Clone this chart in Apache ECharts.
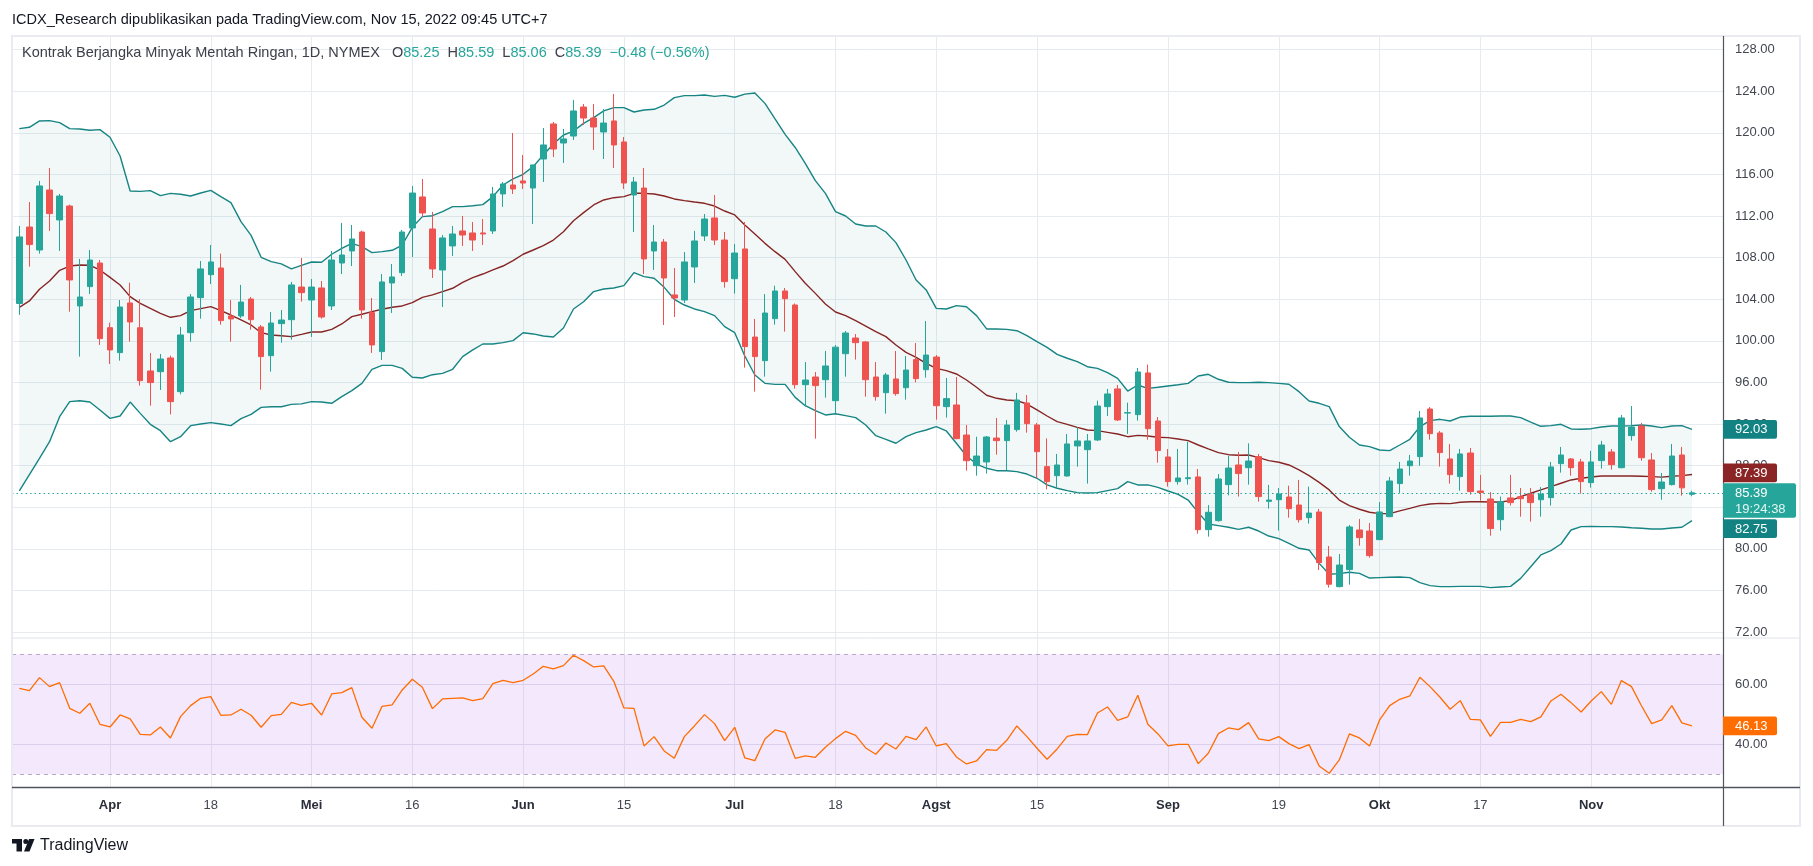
<!DOCTYPE html>
<html>
<head>
<meta charset="utf-8">
<title>Kontrak Berjangka Minyak Mentah Ringan, 1D, NYMEX</title>
<script src="https://cdn.jsdelivr.net/npm/echarts@6/dist/echarts.min.js"></script>
<style>
  html, body { margin: 0; height: 100%; background: #fff; }
  #chart { width: 1813px; height: 866px; }
</style>
</head>
<body>
<div id="chart"></div>
<script>
// daily bars 2022
var dates = [
  '03-21','03-22','03-23','03-24','03-25','03-28','03-29','03-30','03-31',
  '04-01','04-04','04-05','04-06','04-07','04-08','04-11','04-12','04-13','04-14','04-18','04-19','04-20','04-21','04-22','04-25','04-26','04-27','04-28','04-29',
  '05-02','05-03','05-04','05-05','05-06','05-09','05-10','05-11','05-12','05-13','05-16','05-17','05-18','05-19','05-20','05-23','05-24','05-25','05-26','05-27','05-31',
  '06-01','06-02','06-03','06-06','06-07','06-08','06-09','06-10','06-13','06-14','06-15','06-16','06-17','06-21','06-22','06-23','06-24','06-27','06-28','06-29','06-30',
  '07-01','07-05','07-06','07-07','07-08','07-11','07-12','07-13','07-14','07-15','07-18','07-19','07-20','07-21','07-22','07-25','07-26','07-27','07-28','07-29',
  '08-01','08-02','08-03','08-04','08-05','08-08','08-09','08-10','08-11','08-12','08-15','08-16','08-17','08-18','08-19','08-22','08-23','08-24','08-25','08-26','08-29','08-30','08-31',
  '09-01','09-02','09-06','09-07','09-08','09-09','09-12','09-13','09-14','09-15','09-16','09-19','09-20','09-21','09-22','09-23','09-26','09-27','09-28','09-29','09-30',
  '10-03','10-04','10-05','10-06','10-07','10-10','10-11','10-12','10-13','10-14','10-17','10-18','10-19','10-20','10-21','10-24','10-25','10-26','10-27','10-28','10-31',
  '11-01','11-02','11-03','11-04','11-07','11-08','11-09','11-10','11-11','11-14','11-15'
];

var opens = [
  103.60,110.95,108.74,114.51,111.63,112.97,103.36,105.22,107.49,101.27,
  98.87,103.65,101.27,97.11,97.04,98.36,95.12,100.79,104.16,106.37,
  107.01,102.40,102.40,104.03,101.34,98.58,101.66,102.04,105.18,103.93,
  105.09,103.36,107.49,108.65,110.47,102.72,98.97,105.57,106.56,110.86,
  113.84,110.76,106.82,109.13,110.57,110.38,110.38,110.57,114.13,114.99,
  115.38,114.70,117.49,120.86,119.03,119.70,122.49,121.43,120.09,121.15,
  119.13,114.03,114.70,108.65,109.51,104.42,103.93,107.11,110.09,111.82,
  109.70,105.98,108.84,100.37,98.10,102.14,104.80,103.45,95.79,96.53,
  96.27,94.25,98.77,100.28,99.90,96.53,95.02,96.34,95.50,98.20,
  97.23,98.45,93.68,93.84,90.95,88.00,88.36,90.66,90.41,91.47,
  94.03,91.92,87.91,87.04,87.01,89.90,89.54,90.47,93.68,95.38,
  93.06,92.91,96.92,92.30,88.84,86.47,86.75,86.92,81.85,82.72,
  86.18,88.07,87.81,88.87,84.57,84.73,84.99,84.22,83.00,83.55,
  79.22,76.37,78.01,81.82,81.72,80.89,83.10,86.28,88.00,88.87,
  93.45,91.15,88.65,86.95,89.22,85.57,84.80,82.81,84.90,85.02,
  85.22,84.73,84.93,88.20,88.65,88.36,86.37,88.49,89.32,87.81,
  90.89,91.82,88.55,85.79,86.18,89.03,85.25
];
var highs = [
  111.05,113.36,115.38,116.63,114.13,113.10,107.88,108.74,107.78,101.75,
  103.93,105.60,104.00,98.84,98.74,98.58,101.34,104.51,107.68,109.22,
  108.39,103.93,105.38,104.22,101.53,102.78,102.97,105.67,107.97,105.95,
  105.76,108.65,111.34,111.15,110.60,104.13,106.43,107.40,110.67,114.90,
  115.57,112.40,110.18,111.05,112.01,111.43,111.72,114.80,115.28,119.99,
  117.88,116.95,120.47,121.05,120.38,123.17,122.78,122.78,122.30,123.74,
  119.61,115.76,116.63,111.15,109.80,107.01,108.55,110.57,112.20,114.03,
  110.47,109.32,111.43,102.11,104.50,105.31,105.09,103.60,97.97,97.01,
  99.03,99.60,100.95,100.66,99.99,97.97,96.92,99.03,98.55,99.80,
  101.91,98.64,96.43,96.53,91.91,90.79,90.86,92.59,92.39,95.00,
  94.80,92.11,90.63,89.13,91.05,91.69,91.05,94.26,95.38,95.76,
  94.06,97.40,97.72,92.68,89.61,89.61,90.31,87.68,84.22,87.20,
  88.93,89.32,90.15,89.13,86.15,85.86,86.08,86.63,85.99,83.84,
  80.28,79.51,82.30,82.88,82.49,84.51,86.92,88.36,89.03,93.26,
  93.64,91.34,90.09,89.61,89.70,87.11,85.47,85.03,87.11,85.86,
  85.86,85.95,88.36,89.80,88.74,88.65,89.42,90.38,89.61,92.88,
  93.74,92.11,89.22,87.30,90.09,89.80,85.59
];
var lows = [
  102.50,107.14,108.39,110.57,108.65,102.81,98.49,104.51,99.61,97.78,
  98.10,99.93,95.70,93.77,95.28,92.94,94.86,99.93,102.14,105.47,
  101.56,99.93,102.20,101.08,95.31,97.04,99.83,100.12,103.78,100.38,
  102.14,102.97,106.43,107.20,102.14,98.84,98.17,102.69,106.24,108.07,
  111.92,106.05,103.26,108.17,109.13,108.65,109.22,110.28,112.88,114.13,
  114.61,111.24,115.28,117.68,117.11,119.32,120.76,118.36,117.49,116.63,
  114.61,110.47,106.43,106.82,101.53,102.30,103.64,105.57,109.61,109.22,
  105.12,104.54,97.43,95.12,96.56,101.56,100.89,95.41,93.67,90.60,
  94.54,93.03,96.56,98.20,94.64,94.25,93.00,94.73,94.35,96.02,
  96.47,92.43,92.62,90.55,87.52,87.04,87.24,89.06,87.59,91.27,
  91.18,86.79,85.73,85.86,86.95,87.91,86.28,90.38,92.78,92.30,
  91.05,92.33,90.50,88.29,85.99,86.18,86.18,81.47,81.18,82.62,
  85.15,85.03,86.18,84.54,83.87,81.76,83.00,82.53,82.43,77.97,
  76.28,76.30,76.56,80.31,79.16,80.85,83.05,85.38,87.04,88.00,
  90.50,87.91,86.28,85.60,85.22,84.64,81.27,81.76,84.16,83.10,
  82.62,83.10,84.16,87.33,87.04,85.31,85.89,87.72,87.62,87.75,
  90.41,88.48,85.50,84.73,86.10,85.12,85.06
];
var closes = [
  110.00,109.26,114.90,112.24,113.93,105.86,104.22,107.78,100.22,99.13,
  103.26,101.82,96.18,95.99,98.26,94.16,100.57,104.22,106.92,107.59,
  101.95,102.11,103.74,102.04,98.49,101.72,102.01,105.38,104.64,105.18,
  102.30,107.78,108.26,109.80,102.97,99.61,105.67,106.15,110.47,114.22,
  112.30,106.92,109.90,110.28,110.18,109.70,110.28,114.13,115.09,114.61,
  115.18,116.92,118.84,118.45,119.42,122.11,121.43,120.57,120.95,118.84,
  115.18,115.28,107.88,109.51,106.05,104.13,107.59,109.61,111.72,109.70,
  105.70,108.45,99.45,98.49,102.68,104.80,104.06,95.79,96.24,95.70,
  97.59,99.40,100.76,99.83,96.27,94.64,96.72,94.93,97.20,96.37,
  98.64,93.77,94.45,90.60,88.48,88.93,90.76,90.41,91.91,94.32,
  92.04,89.35,86.47,88.07,90.09,90.38,90.38,93.74,94.90,92.40,
  93.10,97.01,91.56,89.45,86.47,86.82,86.85,81.85,83.52,86.72,
  87.78,87.24,88.45,85.03,84.70,85.28,83.87,82.81,83.45,78.68,
  76.60,78.45,82.11,81.08,79.35,83.55,86.53,87.68,88.45,92.59,
  91.08,89.26,87.14,89.13,85.51,85.41,81.95,84.54,84.45,84.83,
  84.45,85.28,87.88,89.03,87.81,86.47,88.36,89.99,88.10,92.59,
  91.72,88.77,85.70,86.43,88.93,85.87,85.39
];

// Bollinger Bands (20, 2) as drawn
var bbUpper = [
  120.41,120.54,121.15,121.18,120.99,120.41,120.38,120.25,120.31,119.58,
  117.78,114.42,114.38,114.45,113.97,114.19,114.10,113.93,114.22,114.48,
  113.87,113.29,111.47,110.15,108.04,107.62,107.40,106.92,107.27,107.59,
  107.56,108.33,108.90,109.38,109.06,108.49,108.58,108.71,109.22,110.92,
  111.95,112.04,112.43,112.91,112.91,113.00,113.10,113.87,114.99,115.57,
  116.02,116.76,117.88,118.93,119.80,120.18,120.92,121.47,122.11,122.43,
  122.43,122.01,122.20,122.27,122.68,123.39,123.58,123.58,123.65,123.51,
  123.61,123.43,123.73,123.84,122.84,121.34,119.86,118.60,117.07,115.41,
  114.19,112.43,112.01,111.24,111.05,111.05,110.47,109.45,107.78,105.86,
  104.90,103.13,103.07,103.39,103.29,102.43,101.15,101.15,101.11,100.98,
  100.50,99.93,99.38,98.71,98.33,98.00,97.52,97.36,96.95,96.40,
  95.18,95.76,95.44,95.54,95.67,95.79,95.92,96.63,96.79,96.31,
  96.02,95.99,95.99,96.02,95.99,95.92,95.83,95.12,94.22,94.00,
  93.68,91.76,90.73,89.99,89.83,89.51,89.45,89.99,90.54,91.76,
  92.33,92.46,92.30,92.68,92.75,92.75,92.75,92.78,92.78,92.62,
  92.20,91.79,91.85,91.98,91.53,91.50,91.56,91.72,91.82,91.82,
  91.85,91.92,91.82,91.66,91.82,91.85,91.50
];
var bbBasis = [
  103.23,103.84,104.96,105.76,106.79,107.20,107.30,107.27,106.82,106.11,
  105.38,104.26,103.61,103.13,102.65,102.27,102.43,102.91,103.10,103.29,
  102.91,102.49,102.01,101.53,100.79,100.57,100.50,100.41,100.63,100.86,
  100.86,101.11,101.63,102.33,102.56,102.81,103.04,103.23,103.36,103.68,
  104.19,104.42,104.74,105.06,105.63,106.08,106.43,106.82,107.20,107.72,
  108.33,108.74,109.16,109.70,110.50,111.56,112.33,113.07,113.55,113.77,
  113.87,114.19,114.19,114.13,113.93,113.65,113.49,113.35,113.23,112.97,
  112.49,112.11,111.14,110.28,109.38,108.58,107.84,106.66,105.54,104.57,
  103.55,102.78,102.43,101.95,101.43,100.89,100.41,99.61,98.90,98.42,
  97.84,97.36,97.14,96.82,96.24,95.54,94.77,94.48,94.32,94.25,
  93.93,93.36,92.78,92.24,91.98,91.69,91.43,91.37,91.21,91.05,
  90.79,90.92,90.86,90.73,90.70,90.57,90.41,89.99,89.61,89.26,
  89.06,89.00,89.03,88.77,88.49,88.33,88.07,87.59,87.04,86.40,
  85.67,84.70,84.16,83.81,83.52,83.39,83.39,83.65,83.90,84.16,
  84.32,84.38,84.35,84.48,84.54,84.54,84.51,84.51,84.64,85.03,
  85.35,85.67,85.99,86.31,86.63,86.79,86.92,87.01,87.01,87.01,
  87.01,86.98,86.95,86.90,86.98,87.05,87.15
];
var bbLower = [
  85.57,87.14,88.71,90.31,92.71,94.16,94.25,94.12,93.35,92.55,
  92.78,94.12,93.03,91.98,91.37,90.31,90.79,91.85,92.01,92.14,
  92.01,91.85,92.52,92.94,93.61,93.67,93.67,93.90,93.94,94.16,
  94.13,94.00,94.64,95.22,95.92,97.27,97.65,97.65,97.36,96.50,
  96.43,96.75,96.88,97.27,98.49,99.13,99.70,99.70,99.83,100.03,
  100.79,100.67,100.47,100.38,101.24,103.07,103.77,104.74,104.99,105.09,
  105.31,106.56,106.18,106.02,105.15,104.00,103.45,103.07,102.81,102.43,
  101.37,100.79,98.55,96.72,95.92,95.82,95.82,94.57,93.77,93.29,
  92.88,93.00,92.81,92.62,91.91,90.89,90.54,90.16,90.79,91.18,
  91.43,91.75,91.34,90.16,88.93,88.16,87.75,87.52,87.52,87.43,
  87.20,86.79,86.15,85.83,85.60,85.41,85.38,85.41,85.60,85.79,
  86.47,86.15,86.15,85.92,85.57,85.25,84.70,83.49,82.40,82.24,
  82.08,81.88,82.08,81.72,81.24,80.99,80.54,80.06,79.90,78.61,
  77.56,77.62,77.75,77.65,77.20,77.24,77.27,77.30,77.24,76.76,
  76.47,76.37,76.37,76.40,76.40,76.40,76.28,76.34,76.40,77.17,
  78.29,79.42,79.83,80.47,81.82,82.14,82.17,82.14,82.14,82.11,
  82.04,81.98,81.92,81.92,82.01,82.08,82.72
];

// RSI 14
var rsi = [
  58.67,57.89,62.22,59.22,60.56,52.00,50.34,53.67,46.67,45.78,
  49.78,48.45,43.34,43.11,45.78,42.11,49.23,52.89,55.34,55.89,
  49.67,49.78,51.67,49.67,45.67,49.56,50.00,54.00,53.00,53.67,
  49.78,56.78,57.22,58.89,49.00,45.34,52.67,53.11,58.11,61.67,
  59.00,51.89,55.11,55.34,55.45,54.56,55.23,60.23,61.34,60.56,
  61.34,63.45,66.00,65.12,66.23,69.67,67.89,65.78,66.11,61.00,
  52.11,52.00,39.45,42.56,37.78,35.34,42.56,46.12,49.89,46.89,
  41.23,45.67,35.45,34.56,41.78,44.78,44.00,35.34,36.12,35.67,
  39.00,41.89,44.34,43.00,38.78,36.67,40.45,38.45,42.67,41.56,
  45.78,39.45,40.23,35.78,33.45,34.45,38.23,38.00,41.34,46.12,
  42.56,38.67,35.00,38.45,42.67,43.34,43.23,50.45,52.45,48.00,
  49.12,56.34,46.67,43.45,39.45,40.00,40.00,33.56,37.00,43.56,
  45.45,44.89,47.23,41.78,41.23,42.56,40.23,38.56,39.89,32.78,
  30.34,34.78,43.45,42.12,39.45,48.12,52.89,55.00,56.12,62.34,
  59.23,55.67,51.67,54.56,48.34,48.12,42.67,47.34,47.34,48.34,
  47.56,49.12,54.45,56.67,53.89,50.78,54.45,57.56,53.34,61.23,
  59.23,52.78,46.89,48.12,52.89,47.12,46.13
];

// axis labels
var tickDates = ['04-01','04-18','05-02','05-16','06-01','06-15','07-01','07-18','08-01','08-15','09-01','09-19','10-03','10-17','11-01'];
var tickText = ['Apr','18','Mei','16','Jun','15','Jul','18','Agst','15','Sep','19','Okt','17','Nov'];
var monthText = ['Apr','Mei','Jun','Jul','Agst','Sep','Okt','Nov'];
var priceTicks = [72,76,80,84,88,92,96,100,104,108,112,116,120,124,128];
var rsiTicks = [40,60];
var rsiBands = [30,70];

// labels shown on the price scale
var scaleTags = { upper: '92.03', basis: '87.39', lower: '82.75', rsi: '46.13', timer: '19:24:38' };
var headerText = 'ICDX_Research dipublikasikan pada TradingView.com, Nov 15, 2022 09:45 UTC+7';
var symbolText = 'Kontrak Berjangka Minyak Mentah Ringan, 1D, NYMEX';

var UP = '#26a69a', DOWN = '#ef5350';
var BAND = '#178484', BASIS = '#872424', RSI_C = '#ff6d00';
var GRIDC = '#e6ebf0', TXT = '#434651';
var FONT = '"Liberation Sans", Arial, sans-serif';

var tickIdx = tickDates.map(function (d) { return dates.indexOf(d); });
var last = dates.length - 1;
function pairs(arr) { return arr.map(function (v, i) { return [i, v]; }); }

var candles = dates.map(function (d, i) { return [i, opens[i], closes[i], lows[i], highs[i]]; });

var chart = echarts.init(document.getElementById('chart'));

var xCommon = {
  type: 'value', min: -0.7265, max: 169.08,
  axisLine: { show: false },
  axisTick: { show: false, customValues: tickIdx },
  splitLine: { show: true, lineStyle: { color: GRIDC, width: 1 } }
};

var option = {
  animation: false,
  backgroundColor: '#fff',
  grid: [
    { left: 12, right: 90, top: 37, height: 601 },
    { left: 12, right: 90, top: 638, height: 148.7 }
  ],
  xAxis: [
    echarts.util.merge({ gridIndex: 0, axisLabel: { show: false, customValues: tickIdx } }, xCommon, true),
    echarts.util.merge({
      gridIndex: 1,
      axisLabel: {
        show: true, customValues: tickIdx, margin: 12,
        color: TXT, fontSize: 13, fontFamily: FONT,
        formatter: function (v) {
          var t = tickText[tickIdx.indexOf(Math.round(v))] || '';
          return monthText.indexOf(t) >= 0 ? '{m|' + t + '}' : t;
        },
        rich: { m: { fontWeight: 'bold', color: '#2a2e39', fontSize: 13, fontFamily: FONT } }
      }
    }, xCommon, true)
  ],
  yAxis: [
    {
      gridIndex: 0, type: 'value', position: 'right',
      min: 71.433, max: 129.221,
      axisLine: { show: false },
      axisTick: { show: false, customValues: priceTicks },
      axisLabel: {
        customValues: priceTicks, margin: 12, color: TXT, fontSize: 13, fontFamily: FONT,
        formatter: function (v) { return v.toFixed(2); }
      },
      splitLine: { show: true, lineStyle: { color: GRIDC } }
    },
    {
      gridIndex: 1, type: 'value', position: 'right',
      min: 25.867, max: 75.433,
      axisLine: { show: false },
      axisTick: { show: false, customValues: rsiTicks },
      axisLabel: {
        customValues: rsiTicks, margin: 12, color: TXT, fontSize: 13, fontFamily: FONT,
        formatter: function (v) { return v.toFixed(2); }
      },
      splitLine: { show: true, lineStyle: { color: '#e0e3eb' } }
    }
  ],
  series: [
    {
      // shaded area between the two bands
      name: 'bbFill', type: 'custom', data: [[0, bbBasis[0]]], z: 1, silent: true,
      renderItem: function (params, api) {
        var pts = [];
        for (var i = 0; i < bbUpper.length; i++) pts.push(api.coord([i, bbUpper[i]]));
        for (var j = bbLower.length - 1; j >= 0; j--) pts.push(api.coord([j, bbLower[j]]));
        return { type: 'polygon', shape: { points: pts }, style: { fill: 'rgba(23,132,132,0.055)' } };
      }
    },
    {
      name: 'Upper', type: 'line', data: pairs(bbUpper), symbol: 'none', z: 2,
      lineStyle: { color: BAND, width: 1.4 }
    },
    {
      name: 'Lower', type: 'line', data: pairs(bbLower), symbol: 'none', z: 2,
      lineStyle: { color: BAND, width: 1.4 }
    },
    {
      name: 'Basis', type: 'line', data: pairs(bbBasis), symbol: 'none', z: 2,
      lineStyle: { color: BASIS, width: 1.4 }
    },
    {
      name: 'CL', type: 'candlestick', data: candles, z: 3,
      encode: { x: 0, y: [1, 2, 3, 4] },
      barWidth: 6,
      itemStyle: { color: UP, color0: DOWN, borderColor: UP, borderColor0: DOWN, borderWidth: 1 },
      markLine: {
        silent: true, symbol: 'none', label: { show: false },
        lineStyle: { color: UP, type: [1.5, 3], width: 1 },
        data: [{ yAxis: closes[last] }]
      }
    },
    {
      name: 'RSI', type: 'line', xAxisIndex: 1, yAxisIndex: 1, data: pairs(rsi),
      symbol: 'none', z: 3, lineStyle: { color: RSI_C, width: 1.3 },
      markArea: {
        silent: true, itemStyle: { color: 'rgba(150,40,230,0.105)' },
        data: [[{ yAxis: rsiBands[0] }, { yAxis: rsiBands[1] }]]
      },
      markLine: {
        silent: true, symbol: 'none', label: { show: false },
        lineStyle: { color: '#b7a9c6', type: [4, 4], width: 1 },
        data: rsiBands.map(function (b) { return { yAxis: b }; })
      }
    }
  ]
};
chart.setOption(option);

// ---- overlay: header, legend, frame, price-scale tags, logo ----
function yPix(axis, v) { return chart.convertToPixel({ yAxisIndex: axis }, v); }

var AX = 1723;      // price scale edge
var TAG_H = 18.7;
var ZT = 200;
function tag(y, text, color, w) {
  return {
    type: 'group', z: ZT, children: [
      { type: 'rect', z: ZT, shape: { x: AX, y: y, width: w || 54, height: TAG_H, r: [0, 2, 2, 0] }, style: { fill: color } },
      { type: 'text', z: ZT + 1, style: { x: AX + 12, y: y + TAG_H / 2 + 0.5, text: text, fill: '#fff', font: '13px ' + FONT, verticalAlign: 'middle' } }
    ]
  };
}

var yClose = yPix(0, closes[last]);
var closeTop = yClose - 9.5, closeH = 34.3;
var upTop = yPix(0, bbUpper[last]) - TAG_H / 2;
var midTop = yPix(0, bbBasis[last]) - TAG_H / 2;
if (midTop + TAG_H > closeTop - 1.2) midTop = closeTop - 1.2 - TAG_H;
var lowTop = yPix(0, bbLower[last]) - TAG_H / 2;
if (lowTop < closeTop + closeH + 1.7) lowTop = closeTop + closeH + 1.7;
var rsiTop = yPix(1, rsi[last]) - TAG_H / 2;

var chg = closes[last] - closes[last - 1];
var pct = chg / closes[last - 1] * 100;
function sgn(n) { return (n < 0 ? '\u2212' : '+') + Math.abs(n).toFixed(2); }

var legendRich = '{n|' + symbolText + '}   {n|O}{v|' + opens[last].toFixed(2) + '}  {n|H}{v|' + highs[last].toFixed(2) +
  '}  {n|L}{v|' + lows[last].toFixed(2) + '}  {n|C}{v|' + closes[last].toFixed(2) + '}  {v|' + sgn(chg) + ' (' + sgn(pct) + '%)}';

chart.setOption({
  graphic: [
    { type: 'rect', z: 90, shape: { x: 12, y: 36, width: 1788, height: 790 }, style: { fill: 'none', stroke: '#e9ebf0', lineWidth: 2 } },
    { type: 'text', z: ZT, style: { x: 12, y: 20, text: headerText, fill: '#131722', font: '14.5px ' + FONT, verticalAlign: 'middle' } },
    {
      type: 'text', z: ZT,
      style: {
        x: 22, y: 53, text: legendRich, verticalAlign: 'middle', font: '14.5px ' + FONT,
        rich: {
          n: { fill: '#3d404a', font: '14.5px ' + FONT },
          v: { fill: UP, font: '14.5px ' + FONT }
        }
      }
    },
    { type: 'line', z: 95, shape: { x1: 12, y1: 638, x2: 1800, y2: 638 }, style: { stroke: '#e0e3eb', lineWidth: 1 } },
    { type: 'line', z: 95, shape: { x1: 12, y1: 787.5, x2: 1800, y2: 787.5 }, style: { stroke: '#50535e', lineWidth: 1.6 } },
    { type: 'line', z: 95, shape: { x1: AX + 0.5, y1: 36, x2: AX + 0.5, y2: 826 }, style: { stroke: '#50535e', lineWidth: 1.2 } },

    tag(upTop, scaleTags.upper, '#138282'),
    tag(midTop, scaleTags.basis, '#8b2424'),
    {
      type: 'group', z: ZT, children: [
        { type: 'rect', z: ZT, shape: { x: AX, y: closeTop, width: 73, height: closeH, r: [0, 2, 2, 0] }, style: { fill: UP } },
        { type: 'text', z: ZT + 1, style: { x: AX + 12, y: closeTop + 10, text: closes[last].toFixed(2), fill: '#fff', font: '13px ' + FONT, verticalAlign: 'middle' } },
        { type: 'text', z: ZT + 1, style: { x: AX + 12, y: closeTop + 26, text: scaleTags.timer, fill: '#e3f6f3', font: '13px ' + FONT, verticalAlign: 'middle' } }
      ]
    },
    tag(lowTop, scaleTags.lower, '#138282'),
    tag(rsiTop, scaleTags.rsi, RSI_C),

    // TradingView logo
    {
      type: 'group', z: ZT, children: [
        { type: 'rect', z: ZT, shape: { x: 12, y: 839, width: 10, height: 4.5 }, style: { fill: '#131722' } },
        { type: 'rect', z: ZT, shape: { x: 16.5, y: 839, width: 5.5, height: 12.5 }, style: { fill: '#131722' } },
        { type: 'circle', z: ZT, shape: { cx: 25.8, cy: 841.4, r: 2.5 }, style: { fill: '#131722' } },
        { type: 'polygon', z: ZT, shape: { points: [[29, 839], [34.5, 839], [29.5, 851.5], [24, 851.5]] }, style: { fill: '#131722' } },
        { type: 'text', z: ZT, style: { x: 40, y: 845.5, text: 'TradingView', fill: '#131722', font: '16px ' + FONT, verticalAlign: 'middle' } }
      ]
    }
  ]
});
</script>
</body>
</html>
